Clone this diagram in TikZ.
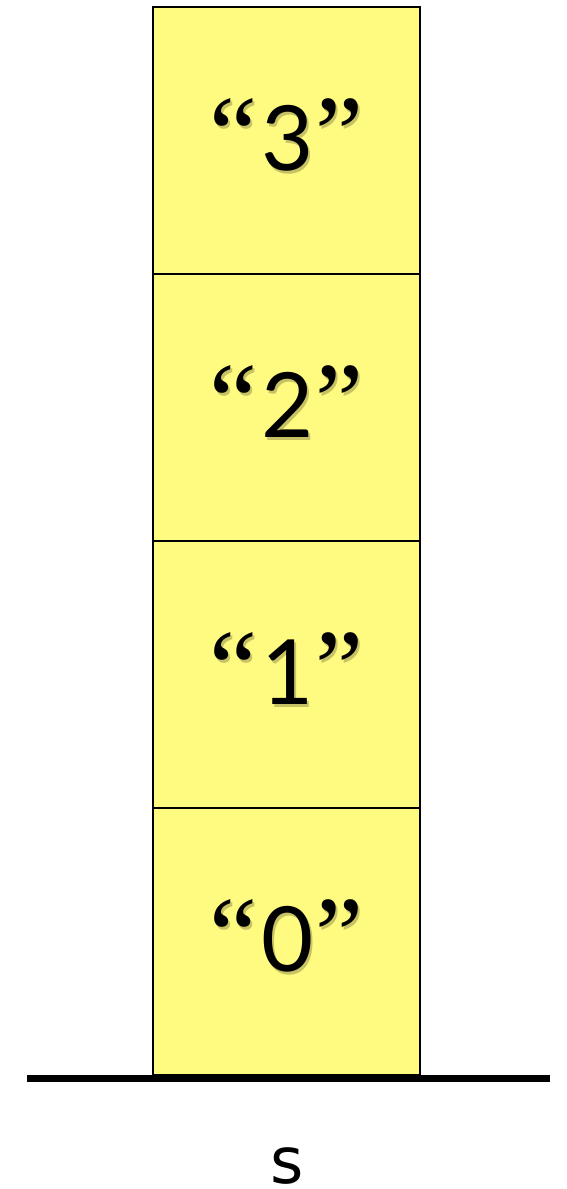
\documentclass[tikz,border=0pt]{standalone}
\usepackage{fontspec}
\setmainfont{Lato}
\newfontfamily\labelfont{DejaVu Sans}
\newfontfamily\quotefont{Liberation Serif}
\usetikzlibrary{positioning}
\definecolor{cellyellow}{RGB}{255,250,128}
\colorlet{shadowc}{cellyellow!78!black}
\newcommand{\quoted}[1]{{\quotefont\fontsize{108}{108}\selectfont “}\kern4pt#1\kern1pt{\quotefont\fontsize{108}{108}\selectfont ”}}
\newcommand{\shadowed}[1]{\rlap{\kern2pt\raisebox{-3pt}{\color{shadowc}\quoted{#1}}}\quoted{#1}}

\begin{document}
\begin{tikzpicture}[x=1pt, y=-1pt,
    cell/.style={draw=black, line width=1.5pt, fill=cellyellow, rectangle,
      minimum width=267pt, minimum height=267pt, inner sep=0pt},
    val/.style={font=\fontsize{90}{90}\selectfont, inner sep=0pt},
    floor/.style={line width=7pt},
    lbl/.style={font=\labelfont\fontsize{64}{64}\selectfont, inner sep=0pt,
      anchor=base, text depth=0pt}
  ]
    \useasboundingbox (0,0) rectangle (566,1189);
    % stack of cells, bottom up
    \foreach \i in {0,...,3} {
      \node[cell] (c\i) at (286.5, 1075-267*\i-133.5) {};
      \node[val] (v\i) at ([yshift=4pt]c\i.center) {\shadowed{\i}};
    }
    \coordinate (fl) at (27,1078);
    \coordinate (fr) at (550,1078);
    \draw[floor] (fl) -- (fr);
    \node[lbl] (s) at (287,1183) {s};
\end{tikzpicture}
\end{document}
